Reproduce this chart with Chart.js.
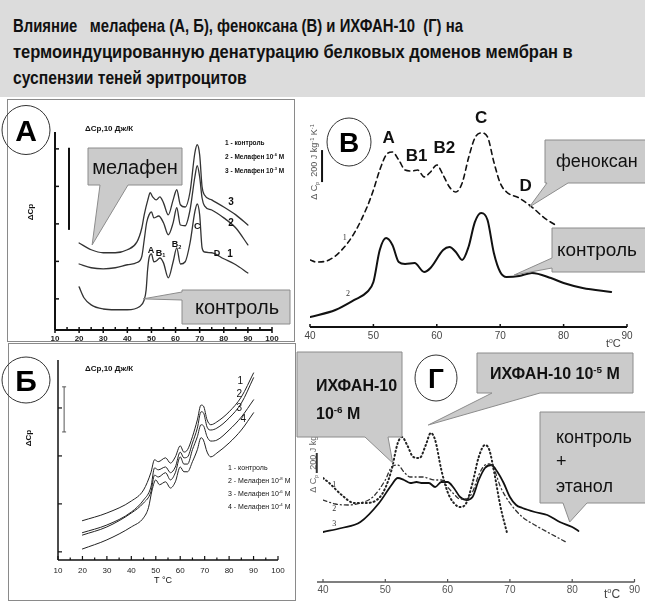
<!DOCTYPE html>
<html>
<head>
<meta charset="utf-8">
<script src="https://cdn.jsdelivr.net/npm/chart.js@4.4.1/dist/chart.umd.min.js"></script>
<style>
  html, body { margin: 0; padding: 0; background: #fff; }
  #page { position: relative; width: 645px; height: 601px; overflow: hidden; background: #fff; }
  #head { position: absolute; left: 0; top: 0; width: 645px; height: 97px; background: #dcdcdc; }
  .tl { position: absolute; left: 13px; white-space: pre; line-height: 22px;
        font-family: "Liberation Sans Narrow", "Liberation Sans", Arial, sans-serif;
        font-weight: bold; font-size: 19px; color: #111; transform-origin: 0 0; }
  .frame { position: absolute; border: 1px solid #8a8a8a; box-sizing: border-box; }
  canvas { position: absolute; left: 0; top: 0; }
</style>
</head>
<body>
<div id="page">
  <div id="head">
    <div class="tl" data-w="450" style="top:15px">Влияние   мелафена (А, Б), феноксана (В) и ИХФАН-10  (Г) на</div>
    <div class="tl" data-w="560" style="top:41px">термоиндуцированную денатурацию белковых доменов мембран в</div>
    <div class="tl" data-w="234" style="top:67px">суспензии теней эритроцитов</div>
  </div>
  <div class="frame" style="left:7px;top:99px;width:288px;height:243px"></div>
  <div class="frame" style="left:8px;top:343px;width:288px;height:258px"></div>
  <canvas id="cA" width="645" height="601"></canvas>
  <canvas id="cB" width="645" height="601"></canvas>
  <canvas id="cV" width="645" height="601"></canvas>
  <canvas id="cG" width="645" height="601"></canvas>
</div>
<script>
// ---------- Panel А: мелафен, ΔCp (relative units) vs T, °C ----------
const aTemp1 = [20,22,25,30,35,40,45,47,47.8,48.4,49,50,51,52,53.5,55,57,59,60.5,62,64,66,68,69,70,71,72,75,80,85,90];
const aCp1   = [0.32,0.03,-0.16,-0.27,-0.29,-0.29,-0.21,-0.03,0.24,0.77,1.09,1.20,0.99,1.01,1.09,0.96,0.56,0.99,1.36,0.93,0.99,1.49,2.32,2.53,2.24,1.36,1.25,1.23,1.07,0.91,0.69];
const aTemp2 = [20,25,30,35,40,44,46,47,48,49,50,51,53,55,57,59,60.5,62,64,66,68,69,70,71,72,75,80,85,90];
const aCp2   = [0.93,0.83,0.80,0.83,0.91,0.97,1.13,1.57,2.03,2.24,2.32,2.16,2.21,2.03,1.71,2.03,2.43,1.97,1.95,2.37,3.25,3.55,3.25,2.69,2.48,2.37,2.16,1.89,1.44];
const aTemp3 = [20,25,30,35,40,44,46,47,48.5,49.5,50.5,52,53.5,55,57,59,60.5,62,64,66,68,69,70,71,72,75,80,85,90];
const aCp3   = [1.49,1.31,1.23,1.23,1.31,1.52,1.89,2.24,2.64,2.83,2.72,2.64,2.72,2.56,2.24,2.64,2.91,2.51,2.45,2.85,3.89,4.11,3.84,2.99,2.77,2.64,2.45,2.24,1.97];
const aXTicks = [10,20,30,40,50,60,70,80,90,100];
const aYTicks = [0,1,2,3,4];
const aLegend = ['1 - контроль', '2 - Мелафен 10^{-6} М', '3 - Мелафен 10^{-3} М'];

// ---------- Panel В: феноксан, ΔCp, J kg-1 K-1 ----------
const bTempCtrl = [40,44,47,49,50,51,52,53,54,55,56.5,58,59,61,62,63,64,65,66,67,68,69,70,71,73,75,78,80,83,87.5];
const bCpCtrl   = [62,106,169,219,281,481,556,513,406,394,400,344,369,481,500,469,419,500,656,713,669,463,344,313,319,338,306,275,244,219];
const bTempFen  = [40,41,43,45,47,49,50,51,52,53,54,55,56,57,58,59,60,61,62,63,64,65,66,67,68,69,70,71,73,75,77,79];
const bCpFen    = [419,406,419,481,588,750,856,981,1075,1094,1044,981,975,981,938,969,1013,950,875,844,900,1056,1181,1213,1188,1031,900,844,806,750,681,631];
const bXTicks = [40,50,60,70,80,90];

// ---------- Panel Б: мелафен, 4 concentrations ----------
const vTemp  = [20,30,40,45,48,49.5,51,54,56,58,60,61.5,63,65,67,68.5,69.5,71,72.5,75,80,85,90];
const vCp1   = [0.65,0.81,1.06,1.29,1.65,1.92,1.88,1.96,1.85,1.98,2.21,2.08,2.13,2.40,2.75,3.06,3.04,2.75,2.65,2.71,2.92,3.23,3.73];
const vCp2   = [0.40,0.56,0.83,1.08,1.35,1.75,1.71,1.77,1.65,1.77,2.08,1.96,1.98,2.27,2.58,2.92,2.90,2.60,2.54,2.58,2.79,3.10,3.63];
const vCp3   = [0.35,0.52,0.81,1.02,1.25,1.60,1.56,1.65,1.50,1.65,1.98,1.83,1.83,2.13,2.40,2.65,2.63,2.40,2.31,2.33,2.54,2.81,3.17];
const vTemp4 = [20,30,40,45,47,48.5,50,51.5,54,56,58,60,61.5,63,65,67,68.5,69.5,71,72.5,75,80,85,90];
const vCp4   = [0.06,0.25,0.52,0.71,0.92,1.29,1.50,1.40,1.46,1.33,1.46,1.77,1.67,1.67,1.88,2.13,2.38,2.33,2.08,1.98,2.06,2.27,2.54,2.90];
const vXTicks = [10,20,30,40,50,60,70,80,90,100];
const vYTicks = [0,1,2,3];
const vLegend = ['1 - контроль', '2 - Мелафен 10^{-8} М', '3 - Мелафен 10^{-6} М', '4 - Мелафен 10^{-4} М'];

// ---------- Panel Г: ИХФАН-10, ΔCp, J kg-1 K-1 ----------
const gTemp1 = [40,41,43,45,47,49,50,51,52,52.7,53.5,54.5,55.5,56.5,57.3,58,59,60,61,62,63,64,65,66,66.7,67.5,68.5,69.5];
const gCp1   = [1040,990,870,790,790,840,940,1120,1390,1450,1370,1250,1240,1370,1490,1420,1120,900,790,750,790,990,1250,1370,1320,1090,750,500];
const gTemp2 = [40,42,44,46,48,50,51,52,53,54,56,58,59,60,61,62,63,64,65,66,66.7,67.5,68.5,70,72,74,76,79];
const gCp2   = [820,780,770,790,850,1020,1150,1170,1100,1050,1050,1020,1020,950,880,830,830,900,1070,1170,1180,1120,950,790,650,570,500,400];
const gTemp3 = [40,43,46,49,51,52,53,54,55,56,57,58,59,60,61,62,63,64,65,66,67,68,69,70,71,72,74,76,78,80,81];
const gCp3   = [500,540,600,790,970,1040,1020,990,1000,990,990,950,1000,1000,940,850,820,850,1020,1140,1170,1100,990,850,770,740,700,670,600,550,510];
const gXTicks = [40,50,60,70,80,90];

// ---------- helpers ----------
const FAM = '"Liberation Sans", Arial, sans-serif';
const pts = (xs, ys) => xs.map((x, i) => ({ x: x, y: ys[i] }));
const X = (c, v) => c.scales.x.getPixelForValue(v);
const Y = (c, v) => c.scales.y.getPixelForValue(v);

function seg(ctx, x1, y1, x2, y2, w, col) {
  ctx.beginPath(); ctx.moveTo(x1, y1); ctx.lineTo(x2, y2);
  ctx.lineWidth = w; ctx.strokeStyle = col; ctx.setLineDash([]); ctx.stroke();
}

// text with ^{..} superscripts and _{..} subscripts; y is the baseline
function rich(ctx, str, x, y, size, opt) {
  opt = opt || {};
  const fam = opt.family || FAM, wt = opt.weight || 'normal';
  const parts = [];
  str.split(/(\^\{[^}]*\}|_\{[^}]*\})/).forEach(p => {
    if (!p) return;
    if (p[0] === '^' && p[1] === '{') parts.push({ t: p.slice(2, -1), k: 1 });
    else if (p[0] === '_' && p[1] === '{') parts.push({ t: p.slice(2, -1), k: -1 });
    else parts.push({ t: p, k: 0 });
  });
  const fnt = s => wt + ' ' + s + 'px ' + fam;
  let total = 0;
  parts.forEach(p => { ctx.font = fnt(p.k ? size * 0.62 : size); p.w = ctx.measureText(p.t).width; total += p.w; });
  let cx = opt.align === 'center' ? x - total / 2 : opt.align === 'right' ? x - total : x;
  ctx.fillStyle = opt.color || '#111'; ctx.textAlign = 'left'; ctx.textBaseline = 'alphabetic';
  parts.forEach(p => {
    ctx.font = fnt(p.k ? size * 0.62 : size);
    const dy = p.k === 1 ? -size * 0.4 : p.k === -1 ? size * 0.18 : 0;
    ctx.fillText(p.t, cx, y + dy);
    cx += p.w;
  });
}

function vtext(ctx, str, cx, cy, size, opt) {
  ctx.save(); ctx.translate(cx, cy); ctx.rotate(-Math.PI / 2);
  rich(ctx, str, 0, size * 0.35, size, Object.assign({ align: 'center' }, opt));
  ctx.restore();
}

function ring(ctx, cx, cy, rx, ry, letter, size) {
  ctx.beginPath(); ctx.ellipse(cx, cy, rx, ry, 0, 0, Math.PI * 2);
  ctx.lineWidth = 1; ctx.strokeStyle = '#333'; ctx.setLineDash([]); ctx.stroke();
  rich(ctx, letter, cx, cy + size * 0.36, size, { weight: 'bold', align: 'center', color: '#000' });
}

// grey speech box with a wedge on its bottom or left edge
function callout(ctx, b, tip) {
  const x = b.x, y = b.y, w = b.w, h = b.h;
  ctx.beginPath();
  ctx.moveTo(x, y); ctx.lineTo(x + w, y); ctx.lineTo(x + w, y + h);
  if (b.edge === 'bottom') {
    ctx.lineTo(b.z, y + h); ctx.lineTo(tip[0], tip[1]); ctx.lineTo(b.a, y + h); ctx.lineTo(x, y + h);
  } else {
    ctx.lineTo(x, y + h); ctx.lineTo(x, b.z); ctx.lineTo(tip[0], tip[1]); ctx.lineTo(x, b.a);
  }
  ctx.closePath();
  ctx.fillStyle = '#cbcbcb'; ctx.fill();
  ctx.lineWidth = 1; ctx.strokeStyle = '#8c8c8c'; ctx.setLineDash([]); ctx.stroke();
  b.text.forEach(t => rich(ctx, t.s, t.x, t.y, t.size, { weight: t.weight || 'normal', align: t.align || 'left', color: '#111' }));
}

function baseOptions(pad, axisH, xmin, xmax, ymin, ymax, ticks, tickFont, tickColor, tickPad) {
  return {
    responsive: false, animation: false, devicePixelRatio: 1,
    layout: { padding: pad },
    plugins: { legend: { display: false }, tooltip: { enabled: false } },
    elements: { point: { radius: 0 } },
    scales: {
      x: {
        type: 'linear', min: xmin, max: xmax,
        afterFit: s => { s.height = axisH; },
        afterBuildTicks: s => { s.ticks = ticks.map(v => ({ value: v })); },
        grid: { display: false, drawTicks: false, tickLength: 0 }, border: { display: false },
        ticks: { autoSkip: false, maxRotation: 0, padding: tickPad, color: tickColor, font: tickFont }
      },
      y: { type: 'linear', display: false, min: ymin, max: ymax }
    }
  };
}

function line(data, col, w, dash) {
  return { data: data, borderColor: col, borderWidth: w, borderDash: dash || [],
           cubicInterpolationMode: 'monotone', pointRadius: 0, fill: false,
           borderCapStyle: 'round', borderJoinStyle: 'round' };
}

// ---------- Panel А ----------
new Chart(document.getElementById('cA'), {
  type: 'line',
  data: { datasets: [
    line(pts(aTemp1, aCp1), '#333', 1.3),
    line(pts(aTemp2, aCp2), '#333', 1.3),
    line(pts(aTemp3, aCp3), '#333', 1.3)
  ] },
  options: baseOptions({ left: 55, right: 373, top: 132, bottom: 251 }, 20, 10, 100, -0.83, 4.45,
                       aXTicks, { size: 8, weight: 'bold', family: FAM }, '#222', 4),
  plugins: [{ id: 'decorA', afterDraw(c) {
    const ctx = c.ctx, x0 = X(c, 10), x1 = X(c, 100), yb = Y(c, -0.83), yt = Y(c, 4.45);
    seg(ctx, x0, yb, x0, yt, 2, '#111');
    seg(ctx, x0, yb, x1, yb, 2, '#111');
    aYTicks.forEach(v => seg(ctx, x0, Y(c, v), x0 + 4, Y(c, v), 1.5, '#111'));
    for (let t = 10; t <= 100; t += 5) {
      const major = t % 10 === 0;
      seg(ctx, X(c, t), yb - 3, X(c, t), yb + (major ? 3 : 0), 1.5, '#111');
    }
    seg(ctx, X(c, 15.8), Y(c, 4.03), X(c, 15.8), Y(c, 1.84), 2, '#111');
    rich(ctx, 'ΔCp,10 Дж/К', 85, 131, 8, { weight: 'bold' });
    vtext(ctx, 'ΔCp', 30, 212, 8, { weight: 'bold' });
    aLegend.forEach((s, i) => rich(ctx, s, 225, 145 + i * 14, 6.5, { weight: 'bold' }));
    const lab = [['A', 49.8, 1.31], ['B_{1}', 53.8, 1.25], ['B_{2}', 60.4, 1.47], ['C', 69, 1.97], ['D', 77.2, 1.25],
                 ['1', 82.6, 1.2], ['2', 83, 2.03], ['3', 83, 2.59]];
    lab.forEach(l => rich(ctx, l[0], X(c, l[1]), Y(c, l[2]) + 3.5, /^\d$/.test(l[0]) ? 10 : 9,
                          { weight: 'bold', align: 'center' }));
    ring(ctx, 26, 130, 24, 24.5, 'А', 30);
    callout(ctx, { x: 88, y: 148, w: 94, h: 37, edge: 'bottom', a: 100, z: 128,
                   text: [{ s: 'мелафен', x: 135, y: 174, size: 20, align: 'center' }] },
            [X(c, 25.4), Y(c, 1.44)]);
    callout(ctx, { x: 182, y: 290, w: 108, h: 34, edge: 'left', a: 292, z: 300,
                   text: [{ s: 'контроль', x: 237, y: 314, size: 20, align: 'center' }] },
            [X(c, 46.5), Y(c, 0)]);
  } }]
});

// ---------- Panel В ----------
new Chart(document.getElementById('cB'), {
  type: 'line',
  data: { datasets: [
    line(pts(bTempFen, bCpFen), '#111', 1.6, [5, 4]),
    line(pts(bTempCtrl, bCpCtrl), '#111', 2)
  ] },
  options: baseOptions({ left: 310, right: 18, top: 100, bottom: 254 }, 20, 40, 90, 0, 1419,
                       bXTicks, { size: 10, family: FAM }, '#444', 3),
  plugins: [{ id: 'decorB', afterDraw(c) {
    const ctx = c.ctx, yb = Y(c, 0);
    seg(ctx, X(c, 40), yb, X(c, 90), yb, 2, '#111');
    bXTicks.forEach(t => seg(ctx, X(c, t), yb - 3, X(c, t), yb, 1.5, '#111'));
    rich(ctx, 't^{o}C', 606, 347, 11, { color: '#444' });
    seg(ctx, X(c, 41.9), Y(c, 906), X(c, 41.9), Y(c, 1106), 2, '#111');
    vtext(ctx, 'Δ C_{p}  200 J kg^{-1} K^{-1}', 314, 162, 9, { color: '#555' });
    const lab = [['A', 52.4, 1188], ['B1', 56.8, 1075], ['B2', 61.2, 1125], ['C', 67, 1313], ['D', 74, 888]];
    lab.forEach(l => rich(ctx, l[0], X(c, l[1]), Y(c, l[2]) + 6, 17, { align: 'center', weight: 'bold' }));
    rich(ctx, '1', X(c, 45.5), Y(c, 563) + 3, 8, { align: 'center', family: '"Liberation Serif", serif', color: '#333' });
    rich(ctx, '2', X(c, 46), Y(c, 213) + 3, 8, { align: 'center', family: '"Liberation Serif", serif', color: '#333' });
    ring(ctx, 349, 142, 22, 24, 'В', 28);
    callout(ctx, { x: 545, y: 140, w: 105, h: 43, edge: 'bottom', a: 547, z: 568,
                   text: [{ s: 'феноксан', x: 556, y: 167, size: 18 }] },
            [X(c, 74.6), Y(c, 750)]);
    callout(ctx, { x: 552, y: 228, w: 100, h: 44, edge: 'left', a: 258, z: 268,
                   text: [{ s: 'контроль', x: 557, y: 256, size: 19 }] },
            [X(c, 72.2), Y(c, 325)]);
  } }]
});

// ---------- Panel Б ----------
new Chart(document.getElementById('cV'), {
  type: 'line',
  data: { datasets: [
    line(pts(vTemp, vCp1), '#222', 1),
    line(pts(vTemp, vCp2), '#222', 1),
    line(pts(vTemp, vCp3), '#222', 1),
    line(pts(vTemp4, vCp4), '#222', 1)
  ] },
  options: baseOptions({ left: 58, right: 367, top: 360, bottom: 21 }, 20, 10, 100, -0.17, 4,
                       vXTicks, { size: 8, family: FAM }, '#222', 6),
  plugins: [{ id: 'decorV', afterDraw(c) {
    const ctx = c.ctx, x0 = X(c, 10), x1 = X(c, 100), yb = Y(c, -0.17), yt = Y(c, 4);
    seg(ctx, x0, yb, x0, yt, 1.5, '#111');
    seg(ctx, x0, yb, x1, yb, 1.5, '#111');
    vYTicks.forEach(v => seg(ctx, x0, Y(c, v), x0 + 4, Y(c, v), 1.2, '#111'));
    for (let t = 10; t <= 100; t += 5) {
      const major = t % 10 === 0;
      seg(ctx, X(c, t), yb, X(c, t), yb - (major ? 4 : 2.5), 1.2, '#111');
    }
    const xb = X(c, 12.5), y1 = Y(c, 3.44), y2 = Y(c, 2.5);
    seg(ctx, xb, y1, xb, y2, 1, '#555');
    seg(ctx, xb - 2, y1, xb + 2, y1, 1, '#555');
    seg(ctx, xb - 2, y2, xb + 2, y2, 1, '#555');
    rich(ctx, 'T °C', 163, 583, 9, { align: 'center' });
    rich(ctx, 'ΔCp,10 Дж/К', 85, 371, 8, { weight: 'bold' });
    vtext(ctx, 'ΔCp', 28, 438, 8, { weight: 'bold' });
    vLegend.forEach((s, i) => rich(ctx, s, 228, 470 + i * 13, 7));
    const lab = [['1', 84.6, 3.58], ['2', 84.2, 3.31], ['3', 84.2, 3.02], ['4', 85.8, 2.79]];
    lab.forEach(l => rich(ctx, l[0], X(c, l[1]), Y(c, l[2]) + 3.5, 10, { align: 'center' }));
    ring(ctx, 26, 380, 24, 23, 'Б', 30);
  } }]
});

// ---------- Panel Г ----------
new Chart(document.getElementById('cG'), {
  type: 'line',
  data: { datasets: [
    line(pts(gTemp1, gCp1), '#222', 2, [1, 3]),
    line(pts(gTemp2, gCp2), '#333', 1.3, [4, 3, 1, 3]),
    line(pts(gTemp3, gCp3), '#111', 1.8)
  ] },
  options: baseOptions({ left: 323, right: 10.5, top: 345, bottom: 0 }, 19, 40, 90, 0, 2370,
                       gXTicks, { size: 10, family: FAM }, '#555', 2),
  plugins: [{ id: 'decorG', afterDraw(c) {
    const ctx = c.ctx, yb = Y(c, 0);
    seg(ctx, 317, yb, X(c, 90), yb, 1.5, '#555');
    gXTicks.forEach(t => seg(ctx, X(c, t), yb - 3, X(c, t), yb, 1.2, '#555'));
    rich(ctx, 't^{o}C', 604, 598, 12, { color: '#444' });
    vtext(ctx, 'Δ C_{p}  200 J kg^{-1} K^{-1}', 313, 455, 9, { color: '#666' });
    seg(ctx, X(c, 39), Y(c, 1090), X(c, 39), Y(c, 1290), 2, '#333');
    [['1', 41.8, 980], ['2', 41.8, 740], ['3', 41.8, 590]].forEach(l =>
      rich(ctx, l[0], X(c, l[1]), Y(c, l[2]) + 3, 8, { align: 'center', family: '"Liberation Serif", serif', color: '#333' }));
    ring(ctx, 436, 378, 21, 23, 'Г', 28);
    callout(ctx, { x: 297, y: 352, w: 105, h: 85, edge: 'bottom', a: 365, z: 388,
                   text: [{ s: 'ИХФАН-10', x: 316, y: 391, size: 16, weight: 'bold' },
                          { s: '10^{-6} М', x: 316, y: 419, size: 16, weight: 'bold' }] },
            [X(c, 51.2), Y(c, 1190)]);
    callout(ctx, { x: 477, y: 353, w: 156, h: 40, edge: 'bottom', a: 492, z: 540,
                   text: [{ s: 'ИХФАН-10 10^{-5} М', x: 490, y: 379, size: 16, weight: 'bold' }] },
            [X(c, 56.9), Y(c, 1570)]);
    callout(ctx, { x: 540, y: 412, w: 110, h: 91, edge: 'bottom', a: 563, z: 587,
                   text: [{ s: 'контроль', x: 556, y: 443, size: 18 },
                          { s: '+', x: 556, y: 467, size: 18 },
                          { s: 'этанол', x: 556, y: 492, size: 18 }] },
            [X(c, 79.6), Y(c, 600)]);
  } }]
});

// title lines are fitted to their set widths
document.querySelectorAll('.tl').forEach(el => {
  const w = el.offsetWidth, target = +el.dataset.w;
  if (w > 0) el.style.transform = 'scaleX(' + (target / w).toFixed(4) + ')';
});
</script>
</body>
</html>
